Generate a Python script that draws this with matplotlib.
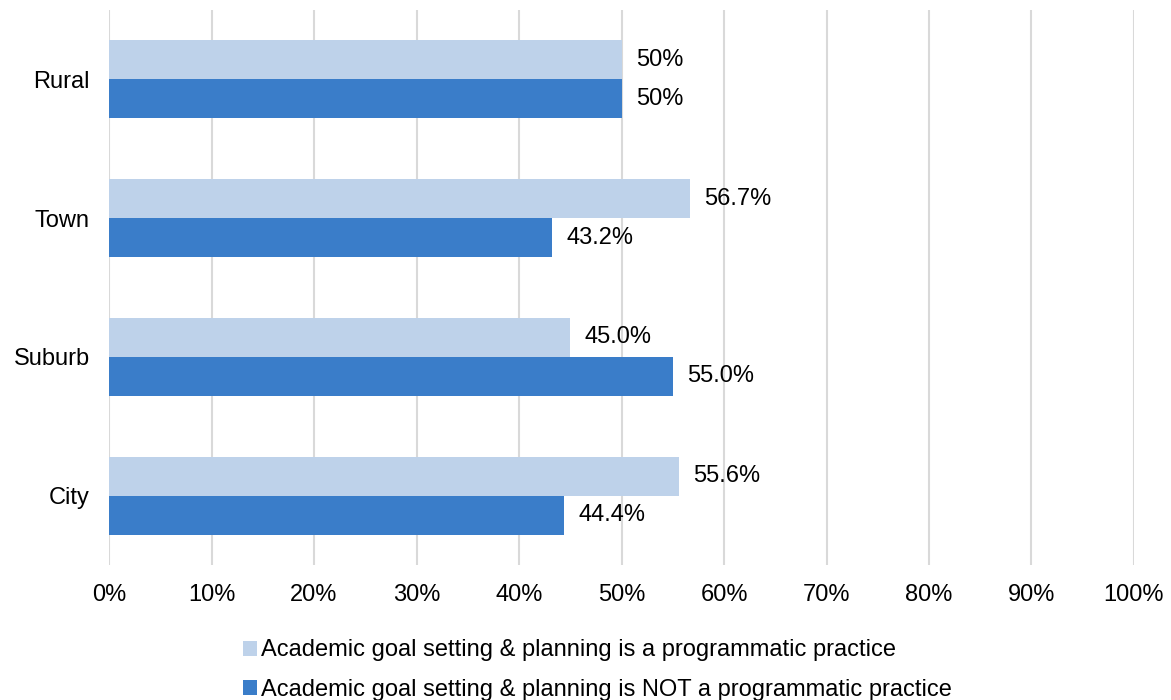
import numpy as np
import matplotlib.pyplot as plt
from matplotlib.patches import Patch

plt.rcParams['font.family'] = ['Liberation Sans', 'DejaVu Sans']

# locale types, bottom to top as drawn
categories = ["City", "Suburb", "Town", "Rural"]
practice = [55.6, 45.0, 56.7, 50.0]
not_practice = [44.4, 55.0, 43.2, 50.0]
practice_labels = ["55.6%", "45.0%", "56.7%", "50%"]
not_practice_labels = ["44.4%", "55.0%", "43.2%", "50%"]
series_names = [
    "Academic goal setting & planning is a programmatic practice",
    "Academic goal setting & planning is NOT a programmatic practice",
]

light = "#BED2EA"
dark = "#3A7DC9"
fs = 17

fig = plt.figure(figsize=(11.71, 7.0), dpi=100)
ax = fig.add_axes([0.0931, 0.193, 0.8753, 0.7927])

y = np.arange(len(categories))
h = 0.281
ax.barh(y + h / 2, practice, height=h, color=light, zorder=2)
ax.barh(y - h / 2, not_practice, height=h, color=dark, zorder=2)

for yi, v, lab in zip(y, practice, practice_labels):
    ax.text(v + 1.4, yi + h / 2, lab, va="center", ha="left", fontsize=fs)
for yi, v, lab in zip(y, not_practice, not_practice_labels):
    ax.text(v + 1.4, yi - h / 2, lab, va="center", ha="left", fontsize=fs)

ax.set_xlim(0, 100)
ax.set_ylim(-0.5, 3.5)
ax.set_xticks(np.arange(0, 101, 10))
ax.set_xticklabels([f"{t}%" for t in range(0, 101, 10)], fontsize=fs)
ax.set_yticks(y)
ax.set_yticklabels(categories, fontsize=fs)
ax.tick_params(length=0)
ax.tick_params(axis="x", pad=14)
ax.tick_params(axis="y", pad=14)
ax.grid(axis="x", color="#D9D9D9", linewidth=1.5, zorder=0)
for s in ax.spines.values():
    s.set_visible(False)

handles = [Patch(facecolor=light), Patch(facecolor=dark)]
fig.legend(handles, series_names, loc="lower center", bbox_to_anchor=(0.51, -0.032),
           ncol=1, frameon=False, fontsize=fs, handlelength=0.6, handleheight=0.6,
           handletextpad=0.15, labelspacing=0.75)

fig.savefig("out.png", dpi=100)
